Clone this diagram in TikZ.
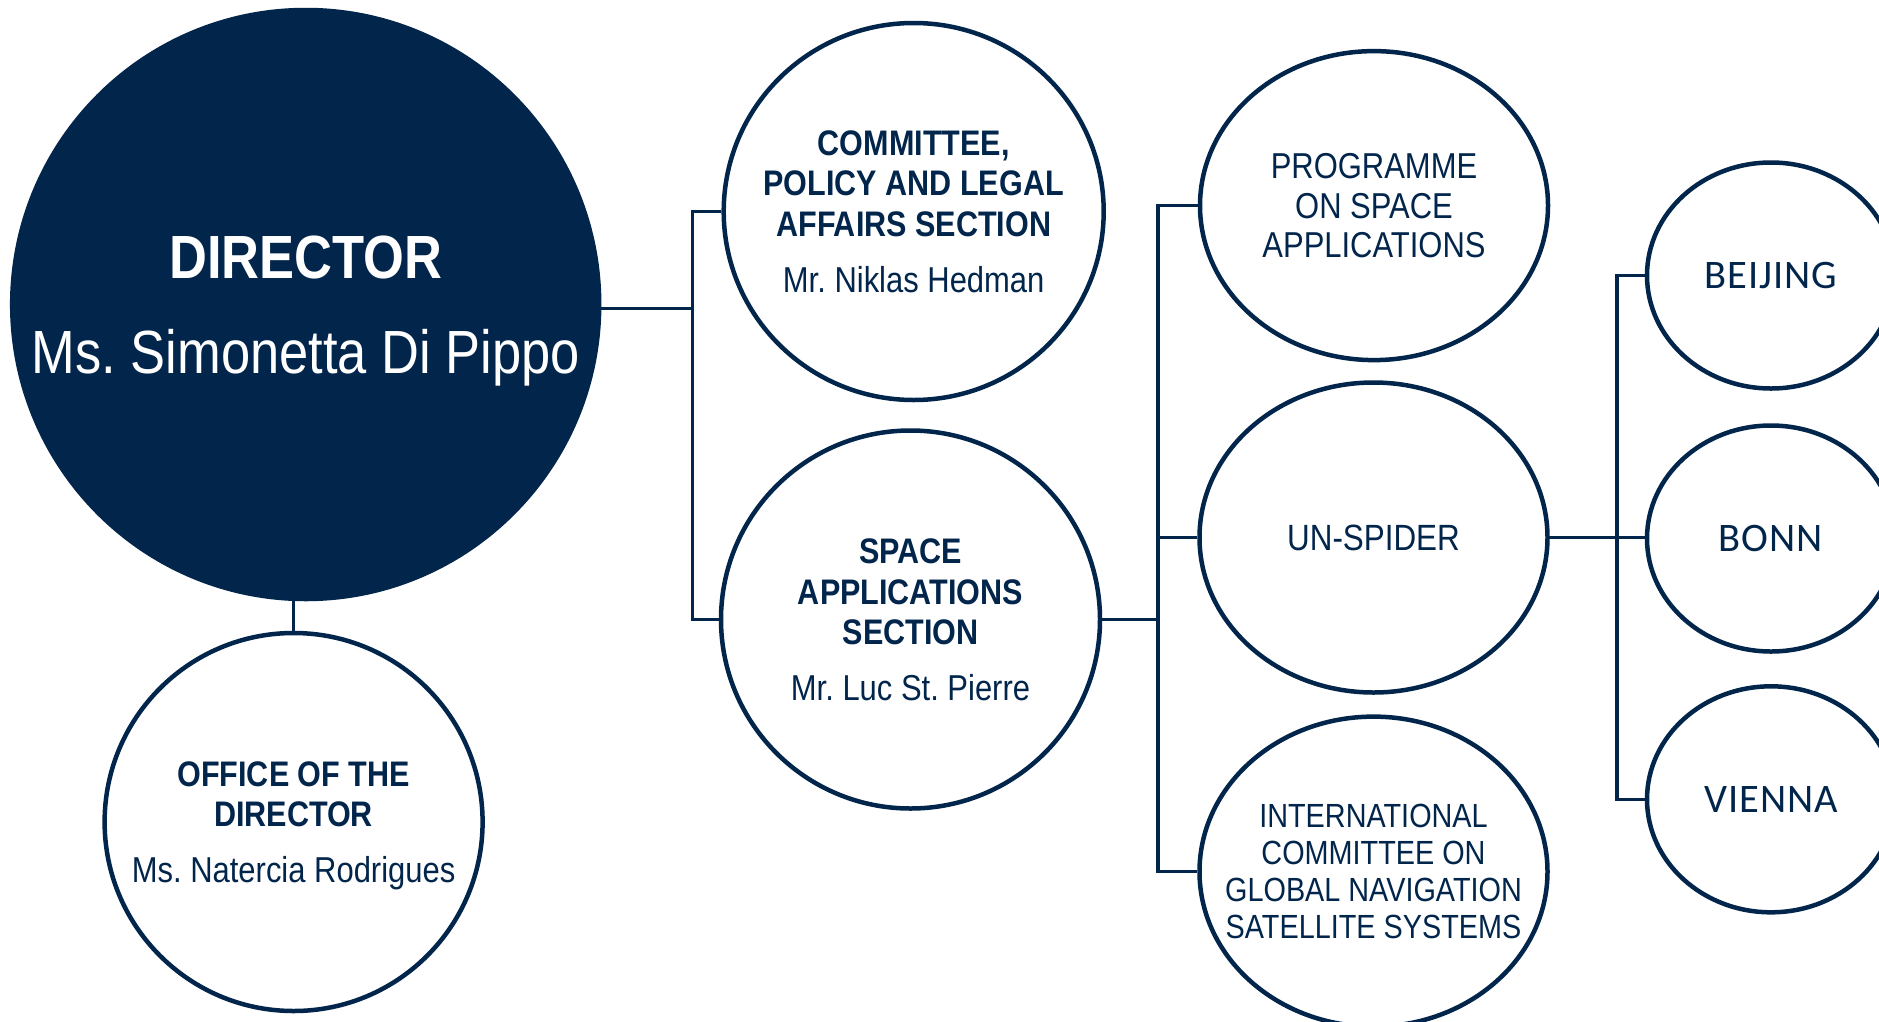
\documentclass[tikz,border=0pt]{standalone}
\usepackage{fontspec}
\setmainfont{Liberation Sans}[FakeStretch=0.86,BoldFeatures={FakeStretch=0.86}]
\newfontfamily\cityfont{Carlito}[LetterSpace=2.5]
\frenchspacing
\usetikzlibrary{shapes.geometric}
\definecolor{navy}{RGB}{2,37,75}
\newcommand\hdfont{\fontsize{35.5}{40.4}\selectfont\bfseries}
\newcommand\nmfont{\fontsize{36}{40.4}\selectfont\mdseries}
\tikzset{
  unit/.style={ellipse, draw=navy, line width=4.5pt, fill=white, inner sep=0pt},
  txt/.style={align=center, text=navy, inner sep=0pt, text depth=0pt},
  conn/.style={draw=navy, line width=3.6pt},
}
\begin{document}
\begin{tikzpicture}[x=1pt,y=-1pt]
\fill[white] (0,0) rectangle (1879,1021);
\useasboundingbox (0,0) rectangle (1879,1021);

% shapes
\node[unit, fill=navy, draw=navy, minimum width=587, minimum height=589] (dir) at (305.7,304.5) {};
\node[unit, minimum width=378, minimum height=378] (off) at (293.6,822) {};
\node[unit, minimum width=380, minimum height=377] (com) at (913.7,211.5) {};
\node[unit, minimum width=379, minimum height=378] (sas) at (910.5,619.5) {};
\node[unit, minimum width=348, minimum height=309] (psa) at (1374,205.6) {};
\node[unit, minimum width=348, minimum height=310] (spider) at (1373.5,537.5) {};
\node[unit, minimum width=348, minimum height=310] (icg) at (1373.5,871.6) {};
\node[unit, minimum width=248, minimum height=226] (bei) at (1771,275.5) {};
\node[unit, minimum width=248, minimum height=226] (bonn) at (1771,538.5) {};
\node[unit, minimum width=248, minimum height=226] (vie) at (1771,799.3) {};

% texts
\node[txt, text=white, font=\fontsize{61}{95}\selectfont] (dirT) at (dir)
  {\bfseries DIRECTOR\\\mdseries Ms. Simonetta Di Pippo};
\node[txt, font=\hdfont] (comT) at (com)
  {\bfseries COMMITTEE,\\\bfseries POLICY AND LEGAL\\\bfseries AFFAIRS SECTION\\[16pt]\nmfont Mr. Niklas Hedman};
\node[txt, font=\hdfont] (sasT) at (sas)
  {\bfseries SPACE\\\bfseries APPLICATIONS\\\bfseries SECTION\\[15pt]\nmfont Mr. Luc St. Pierre};
\node[txt, font=\hdfont] (offT) at (off)
  {\bfseries OFFICE OF THE\\\bfseries DIRECTOR\\[16pt]\nmfont Ms. Natercia Rodrigues};
\node[txt, font=\fontsize{36}{39.8}\selectfont] (psaT) at (psa)
  {PROGRAMME\\ON SPACE\\APPLICATIONS};
\node[txt, font=\fontsize{36.5}{40}\selectfont] (spiderT) at (spider) {UN-SPIDER};
\node[txt, font=\fontsize{33.5}{37}\selectfont] (icgT) at (icg)
  {INTERNATIONAL\\COMMITTEE ON\\GLOBAL NAVIGATION\\SATELLITE SYSTEMS};
\node[txt, font=\cityfont\fontsize{40.5}{41}\selectfont] (beiT) at (bei) {BEIJING};
\node[txt, font=\cityfont\fontsize{40.5}{41}\selectfont] (bonnT) at (bonn) {BONN};
\node[txt, font=\cityfont\fontsize{40.5}{41}\selectfont] (vieT) at (vie) {VIENNA};

% connectors
\coordinate (j1) at (692.5,308.5);
\coordinate (j2) at (1158,0);
\coordinate (j3) at (1617,0);
\draw[conn] (dir.east |- j1) -- (j1);
\draw[conn] (com.west) -| (j1) |- (sas.west);
\draw[conn] (off.north) -- (dir.south -| off.north);
\draw[conn] (sas.east) -- (sas.east -| j2);
\draw[conn] (psa.west) -| (j2 |- icg.west) -- (icg.west);
\draw[conn] (spider.west) -- (spider.west -| j2);
\draw[conn] (spider.east) -- (spider.east -| bonn.west);
\draw[conn] (bei.west) -| (j3 |- vie.west) -- (vie.west);
\end{tikzpicture}
\end{document}
